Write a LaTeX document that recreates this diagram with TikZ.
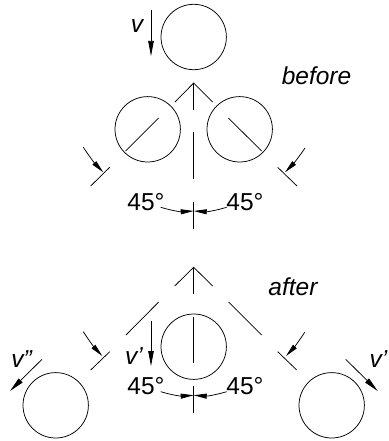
\documentclass[tikz,border=0pt]{standalone}
\usepackage{fontspec}
\setmainfont{Liberation Sans}
\usetikzlibrary{arrows.meta}
\tikzset{
  ln/.style={draw=black,line width=0.75pt},
  ball/.style={circle,draw=black,line width=0.75pt,minimum size=65.4pt,inner sep=0pt},
  arw/.style={ln,-{Triangle[length=15pt,width=5.5pt]}},
  arwb/.style={ln,-{Triangle[length=13pt,width=5pt]}},
  lab/.style={font=\fontsize{24.5}{24.5}\selectfont\itshape,inner sep=0pt},
  deg/.style={font=\fontsize{24.5}{24.5}\selectfont,inner sep=0pt}
}
\begin{document}
\begin{tikzpicture}[x=1pt,y=-1pt]
\useasboundingbox (0,0) rectangle (388,441);
% before
\node[ball] (c1) at (193.7,37) {};
\node[ball] (c2) at (147.7,129.3) {};
\node[ball] (c3) at (239.7,129.3) {};
\draw[arw] (151,10) coordinate (va) -- (151,56) coordinate (vb);
\node[lab] (tv) at (137,26.5) {v};
\node[lab] (tb) at (316.5,76) {before};
\draw[ln] (175,102) -- (193.7,83) -- (212.7,102);
\draw[ln] (193.7,83) -- (193.7,110);
\draw[ln] (193.7,132.3) -- (193.7,179);
\draw[ln] (193.7,201.7) -- (193.7,229);
\draw[ln] (125.7,151) -- (158.7,118);
\draw[ln] (228.3,118) -- (261.7,151);
\draw[ln] (90.7,186) -- (109.7,167.3);
\draw[ln] (277.7,167.3) -- (297,186);
\draw[arwb] (83.3,147.3) to[bend right=5] (103.3,172.3);
\draw[arwb] (305,148) to[bend left=5] (285,172.3);
\node[deg] (d1) at (146,201.7) {45°};
\node[deg] (d2) at (245,201.7) {45°};
\draw[arwb] (160.7,207.3) to[bend right=10] (193.7,211);
\draw[arwb] (226.7,207.3) to[bend left=10] (193.7,211);
% after
\draw[ln] (174.7,286) -- (193.7,267.3) -- (212.7,286);
\draw[ln] (193.7,267.3) -- (193.7,294);
\draw[ln] (158.7,302) -- (126,335);
\draw[ln] (228.7,302) -- (261.7,335);
\node[ball] (c4) at (193.7,346.7) {};
\draw[ln] (193.7,316.7) -- (193.7,363.3);
\draw[ln] (193.7,386) -- (193.7,413.3);
\draw[arw] (151,320.7) -- (151,366);
\node[lab] (t1) at (134,356) {v'};
\node[lab] (ta) at (293,286.7) {after};
\draw[ln] (90.7,370) -- (109.7,351.7);
\draw[ln] (277.7,351.7) -- (296.7,370);
\draw[arwb] (83.3,331.7) to[bend right=5] (102.3,356);
\draw[arwb] (304.7,332.3) to[bend left=5] (286,356);
\node[ball] (c5) at (55.7,405.3) {};
\node[ball] (c6) at (331.7,405.3) {};
\draw[arw] (42,359.3) -- (10,391);
\draw[arw] (345.7,359.3) -- (377.7,391);
\node[lab] (t2) at (21.7,359) {v''};
\node[lab,anchor=east] (t3) at (387.5,359) {v'};
\node[deg] (d3) at (146,386) {45°};
\node[deg] (d4) at (245,386) {45°};
\draw[arwb] (160.7,391.7) to[bend right=10] (193.7,395.3);
\draw[arwb] (226.7,391.7) to[bend left=10] (193.7,395.3);
\end{tikzpicture}
\end{document}
